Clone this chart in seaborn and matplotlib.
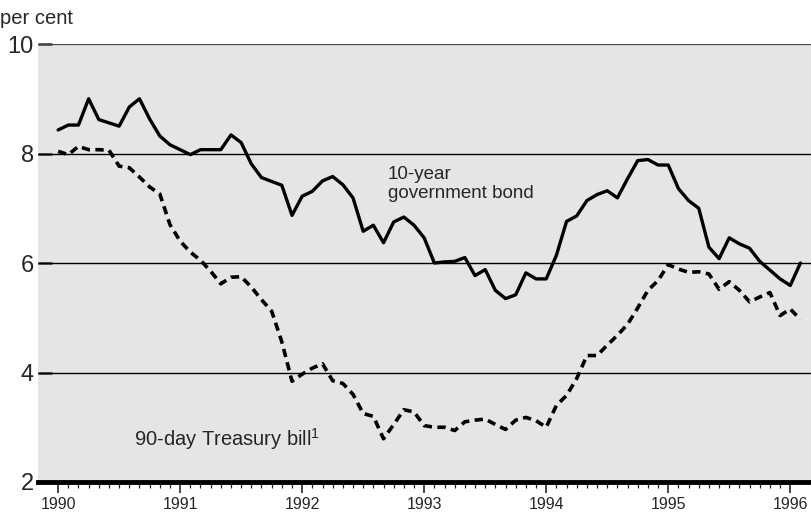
import numpy as np
import pandas as pd
import matplotlib
matplotlib.use("Agg")
import matplotlib.pyplot as plt
import seaborn as sns

# monthly observations, Jan 1990 .. Feb 1996
start_year = 1990
bond_10y = [
    8.43, 8.52, 8.52, 9.00, 8.62, 8.56, 8.50, 8.85, 9.00, 8.63, 8.32, 8.16,
    8.07, 7.98, 8.07, 8.07, 8.07, 8.34, 8.20, 7.81, 7.56, 7.49, 7.42, 6.87,
    7.22, 7.31, 7.50, 7.58, 7.43, 7.19, 6.58, 6.69, 6.37, 6.75, 6.84, 6.69,
    6.46, 6.00, 6.02, 6.03, 6.10, 5.77, 5.88, 5.50, 5.35, 5.42, 5.82, 5.71,
    5.71, 6.14, 6.76, 6.86, 7.14, 7.25, 7.32, 7.19, 7.54, 7.87, 7.89, 7.79,
    7.79, 7.36, 7.14, 7.00, 6.29, 6.08, 6.46, 6.35, 6.27, 6.03, 5.87, 5.71,
    5.59, 6.00,
]
bill_90d = [
    8.04, 7.98, 8.13, 8.07, 8.07, 8.06, 7.77, 7.74, 7.57, 7.39, 7.26, 6.70,
    6.40, 6.20, 6.05, 5.85, 5.62, 5.74, 5.75, 5.56, 5.33, 5.12, 4.56, 3.84,
    3.97, 4.08, 4.16, 3.85, 3.80, 3.60, 3.25, 3.20, 2.79, 3.05, 3.32, 3.28,
    3.03, 3.00, 3.00, 2.94, 3.10, 3.13, 3.15, 3.05, 2.96, 3.13, 3.18, 3.12,
    3.00, 3.40, 3.58, 3.89, 4.31, 4.31, 4.50, 4.68, 4.88, 5.18, 5.50, 5.68,
    5.97, 5.89, 5.83, 5.84, 5.80, 5.52, 5.66, 5.50, 5.29, 5.38, 5.46, 5.04,
    5.16, 4.97,
]
year_ticks = [1990, 1991, 1992, 1993, 1994, 1995, 1996]
y_ticks = [2, 4, 6, 8, 10]

df = pd.DataFrame({
    "t": start_year + np.arange(len(bond_10y)) / 12.0,
    "bond": bond_10y,
    "bill": bill_90d,
})

sns.set_style("white")
plt.rcParams["font.family"] = ["Liberation Sans", "DejaVu Sans"]
plt.rcParams["mathtext.default"] = "regular"

fig = plt.figure(figsize=(8.11, 5.18), dpi=100)
ax = fig.add_axes([0.047, 0.0695, 0.953, 0.8455])
ax.set_facecolor("#e5e5e5")

for y in [4, 6, 8]:
    ax.axhline(y, color="black", lw=1.0, zorder=1)
ax.axhline(10, color="#444444", lw=1.6, zorder=1)

sns.lineplot(data=df, x="t", y="bond", ax=ax, color="black", lw=2.4, zorder=3)
line = sns.lineplot(data=df, x="t", y="bill", ax=ax, color="black", lw=2.6, zorder=3).lines[-1]
line.set_dashes([2.3, 1.5])

ax.set_xlim(1989.836, 1996.17)
ax.set_ylim(2, 10)
ax.set_xlabel("")
ax.set_ylabel("")

for s in ["top", "right", "left"]:
    ax.spines[s].set_visible(False)
ax.spines["bottom"].set_linewidth(3.5)
ax.spines["bottom"].set_color("black")

ax.set_yticks(y_ticks)
ax.set_yticklabels([str(v) for v in y_ticks], fontsize=17)
ax.tick_params(axis="y", left=True, direction="in", length=10, width=1.8, pad=3, color="#333333")

ax.set_xticks(year_ticks)
ax.set_xticklabels([str(v) for v in year_ticks], fontsize=11.5)
ax.set_xticks(start_year + np.arange(1, 73) / 12.0, minor=True)
ax.tick_params(axis="x", which="major", bottom=True, direction="out", length=8, width=1.2, pad=3)
ax.tick_params(axis="x", which="minor", bottom=True, direction="out", length=4.5, width=0.9)

ax.text(1992.7, 7.78, "10-year\ngovernment bond", fontsize=13.5, ha="left", va="top",
        linespacing=1.2)
ax.text(1990.62, 2.78, "90-day Treasury bill$^{1}$", fontsize=14.5, ha="left", va="center")
fig.text(0.0, 0.965, "per cent", fontsize=14.5, ha="left", va="center")

fig.savefig("out.png", dpi=100)
